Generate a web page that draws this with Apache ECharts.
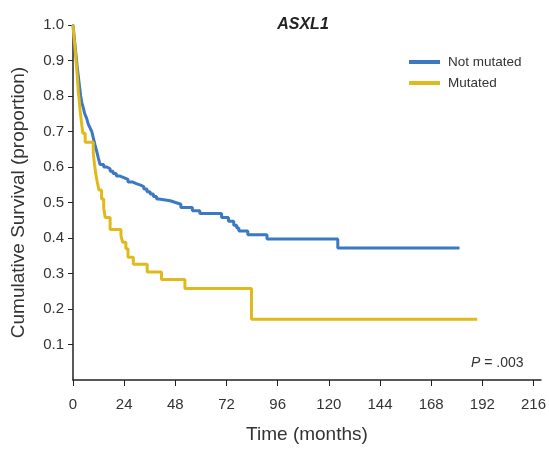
<!DOCTYPE html>
<html><head><meta charset="utf-8">
<script src="https://cdn.jsdelivr.net/npm/echarts@6/dist/echarts.min.js"></script>
<style>html,body{margin:0;padding:0;background:#fff}#c{width:549px;height:449px}</style>
</head><body><div id="c"></div>
<script>
var xTicks = [0, 24, 48, 72, 96, 120, 144, 168, 192, 216];
var yTicks = [0.1, 0.2, 0.3, 0.4, 0.5, 0.6, 0.7, 0.8, 0.9, 1.0];
var notMutatedTime = [0, 0.5, 1, 1.5, 2, 2.6, 3.2, 3.6, 4.2, 4.9, 5.5, 6.4, 7.2, 8.0, 8.8, 9.4, 10.3, 11.1, 11.9, 12.7, 14.4, 15.9, 17.4, 18.8, 20.3, 21.8, 23.8, 25.8, 27.8, 29.7, 31.7, 33.2, 34.7, 36.2, 37.7, 39.2, 40.2, 45.6, 48.1, 50.6, 56, 59.5, 69.7, 72.9, 75.4, 76.8, 77.8, 82, 91, 124.2, 181.3];
var notMutatedSurv = [1.0, 0.97, 0.94, 0.91, 0.88, 0.85, 0.82, 0.80, 0.78, 0.765, 0.75, 0.737, 0.72, 0.71, 0.70, 0.685, 0.663, 0.645, 0.625, 0.607, 0.60, 0.595, 0.588, 0.582, 0.575, 0.57, 0.565, 0.558, 0.553, 0.549, 0.545, 0.538, 0.53, 0.524, 0.517, 0.51, 0.505, 0.50, 0.495, 0.486, 0.477, 0.469, 0.458, 0.447, 0.436, 0.428, 0.42, 0.409, 0.397, 0.372, 0.372];
var mutatedTime = [0, 0.4, 0.9, 1.3, 1.7, 2.1, 2.5, 2.9, 3.3, 3.7, 4.1, 4.6, 5.7, 9.5, 10.1, 10.7, 11.3, 12.2, 13.4, 14.4, 15.1, 17.4, 22.5, 23.3, 24.8, 25.8, 28.3, 34.8, 41.5, 52.5, 83.7, 189.6];
var mutatedSurv = [1.0, 0.97, 0.94, 0.91, 0.88, 0.85, 0.81, 0.79, 0.76, 0.74, 0.72, 0.695, 0.67, 0.64, 0.607, 0.58, 0.56, 0.535, 0.51, 0.485, 0.458, 0.424, 0.406, 0.388, 0.37, 0.346, 0.326, 0.304, 0.283, 0.258, 0.171, 0.171];

function pairs(t, s) { return t.map(function (v, i) { return [v, s[i]]; }); }
var sans = '"Liberation Sans", Arial, sans-serif';
var chart = echarts.init(document.getElementById('c'));
chart.setOption({
  animation: false,
  backgroundColor: '#fff',
  title: {
    text: 'ASXL1', left: 298, top: 12, textAlign: 'center',
    textStyle: { fontFamily: sans, fontStyle: 'italic', fontWeight: 'bold', fontSize: 16, color: '#222' }
  },
  legend: {
    orient: 'vertical', left: 409, top: 55, padding: 0, itemWidth: 31, itemHeight: 4, itemGap: 7, icon: 'rect',
    textStyle: { fontFamily: sans, fontSize: 13.5, color: '#333', padding: [0, 0, 0, 3] },
    data: ['Not mutated', 'Mutated']
  },
  grid: { left: 73, right: 8, top: 25, bottom: 65, containLabel: false },
  xAxis: {
    type: 'value', min: 0, max: 219.5,
    name: 'Time (months)', nameLocation: 'middle', nameGap: 45,
    nameTextStyle: { fontFamily: sans, fontSize: 19, color: '#333' },
    axisLine: { lineStyle: { color: '#222', width: 1.5 } },
    axisTick: { customValues: xTicks, length: 6, inside: false, lineStyle: { color: '#222' } },
    axisLabel: { customValues: xTicks, fontFamily: sans, fontSize: 15, color: '#333', margin: 17 },
    splitLine: { show: false }
  },
  yAxis: {
    type: 'value', min: 0, max: 1.0,
    name: 'Cumulative Survival (proportion)', nameLocation: 'middle', nameGap: 45,
    nameTextStyle: { fontFamily: sans, fontSize: 19, color: '#333' },
    axisLine: { show: true, lineStyle: { color: '#222', width: 1.5 } },
    axisTick: { show: true, customValues: yTicks, length: 5, lineStyle: { color: '#222' } },
    axisLabel: { customValues: yTicks, fontFamily: sans, fontSize: 15, color: '#333', margin: 9,
      formatter: function (v) { return v.toFixed(1); } },
    splitLine: { show: false }
  },
  graphic: [{
    type: 'text', left: 471, top: 356,
    style: {
      text: '{i|P} = .003',
      font: '14px ' + sans, fill: '#333',
      rich: { i: { fontStyle: 'italic', fontFamily: sans, fontSize: 14, fill: '#333' } }
    }
  }],
  series: [{
    name: 'Not mutated', type: 'line', step: 'end', showSymbol: false, symbol: 'none',
    color: '#3b79c2', lineStyle: { width: 3, color: '#3b79c2' },
    data: pairs(notMutatedTime, notMutatedSurv)
  }, {
    name: 'Mutated', type: 'line', step: 'end', showSymbol: false, symbol: 'none',
    color: '#e0b91a', lineStyle: { width: 3, color: '#e0b91a' },
    data: pairs(mutatedTime, mutatedSurv)
  }]
});
</script></body></html>
